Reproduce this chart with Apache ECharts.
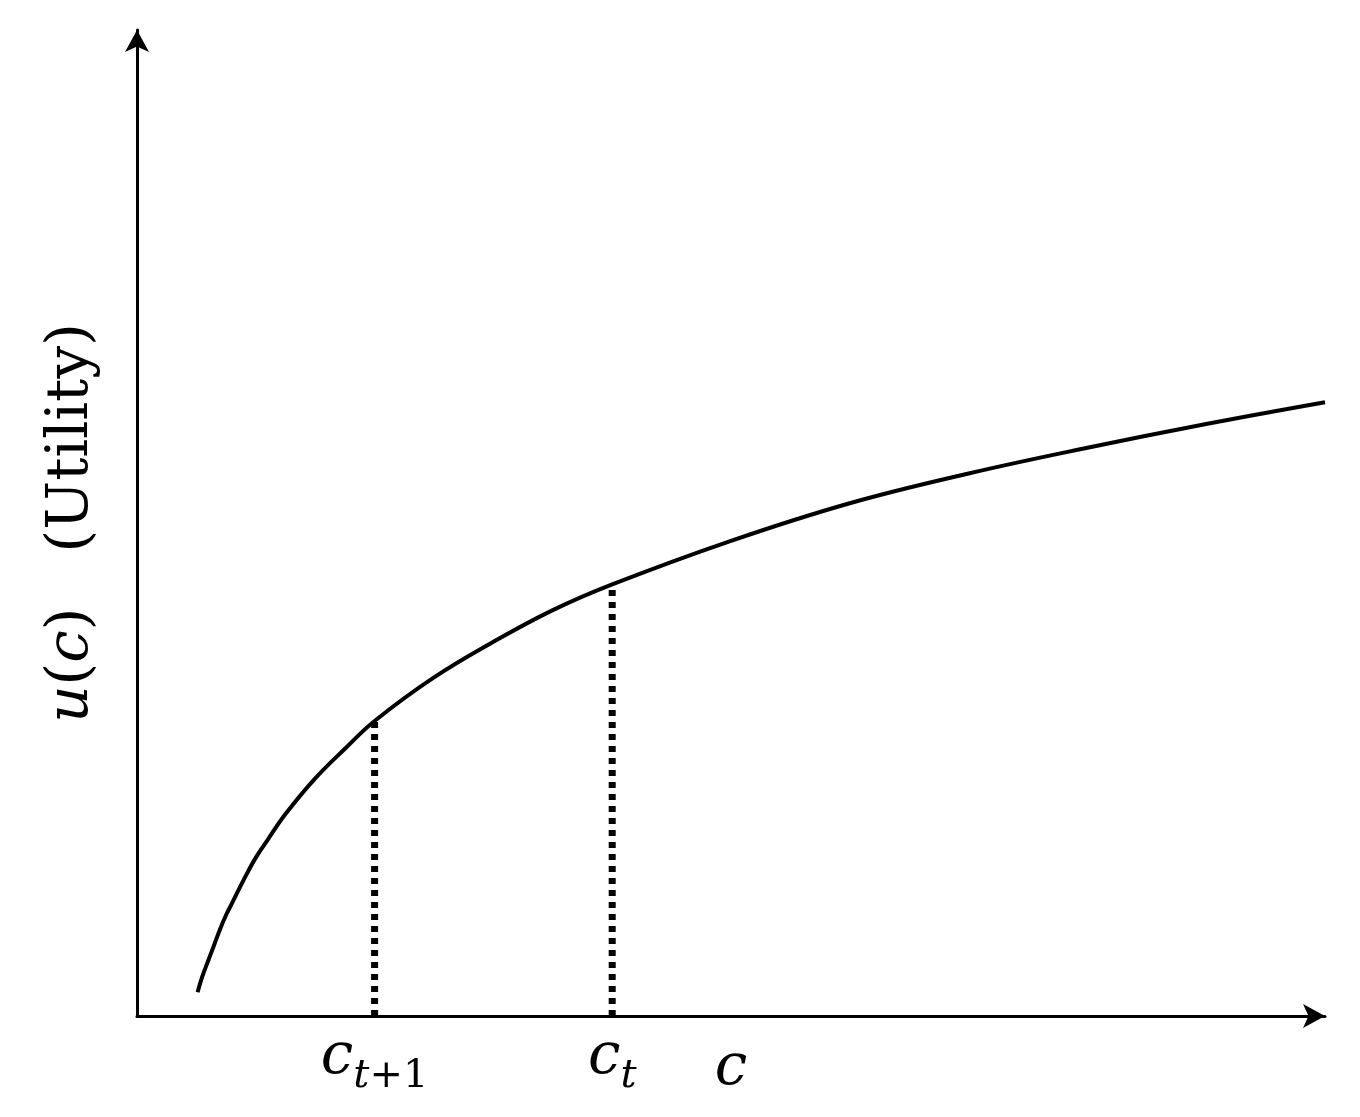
<!DOCTYPE html>
<html>
<head>
<meta charset="utf-8">
<script src="https://cdn.jsdelivr.net/npm/echarts@6/dist/echarts.min.js"></script>
<style>
html,body{margin:0;padding:0;background:#fff;}
#chart{width:1360px;height:1117px;}
</style>
</head>
<body>
<div id="chart"></div>
<script>
// Utility curve (c on x, u(c) on y)
const consumption = [0.51, 0.55, 0.6, 0.65, 0.7, 0.75, 0.8, 0.9, 1.0, 1.1, 1.25, 1.5, 1.75, 2, 2.5, 3, 3.5, 4, 5, 6, 7, 8, 9, 10];
const utility = [0.12, 0.20, 0.28, 0.36, 0.44, 0.51, 0.57, 0.69, 0.80, 0.89, 1.02, 1.20, 1.35, 1.49, 1.71, 1.89, 2.05, 2.18, 2.40, 2.59, 2.74, 2.87, 2.99, 3.10];
// Marked consumption levels c_{t+1}, c_t and their utility
const markerC = [2, 4];
const markerU = [1.49, 2.18];
const markerSub = ['t', 't'];
const markerSubExtra = ['+1', ''];
const xName = 'c';
const yName = ['u', 'c', 'Utility'];

const SERIF = 'DejaVu Serif';
const chart = echarts.init(document.getElementById('chart'), null, {renderer: 'canvas'});

const curve = consumption.map((c, i) => [c, utility[i]]);
const series = [{
  type: 'line',
  data: curve,
  smooth: 0.4,
  showSymbol: false,
  symbol: 'none',
  clip: false,
  lineStyle: {color: '#000', width: 4},
  z: 3
}];
markerC.forEach((c, i) => {
  series.push({
    type: 'line',
    data: [[c, 0], [c, markerU[i]]],
    showSymbol: false,
    symbol: 'none',
    lineStyle: {color: '#000', width: 7, type: [6, 6], cap: 'butt'},
    z: 2
  });
});

const labelMap = {};
markerC.forEach((c, i) => {
  labelMap[c] = '{c|c}{s|' + markerSub[i] + '}' + (markerSubExtra[i] ? '{n|' + markerSubExtra[i] + '}' : '');
});

chart.setOption({
  animation: false,
  backgroundColor: '#fff',
  grid: {left: 137, right: 35, top: 30, bottom: 101, containLabel: false, outerBoundsMode: 'none'},
  xAxis: {
    type: 'value',
    min: 0, max: 10,
    name: xName,
    nameLocation: 'middle',
    nameGap: 24,
    nameMoveOverlap: false,
    nameTextStyle: {fontFamily: SERIF, fontStyle: 'italic', fontSize: 58, color: '#000', verticalAlign: 'top'},
    axisLine: {show: true, symbol: ['none', 'arrow'], symbolSize: [18, 22],
      lineStyle: {color: '#000', width: 3}},
    axisTick: {show: false},
    splitLine: {show: false},
    axisLabel: {
      show: true,
      customValues: markerC,
      margin: 13,
      formatter: v => labelMap[v] || '',
      rich: {
        c: {fontFamily: SERIF, fontStyle: 'italic', fontSize: 58, color: '#000', verticalAlign: 'top', lineHeight: 60},
        s: {fontFamily: SERIF, fontStyle: 'italic', fontSize: 40, color: '#000', verticalAlign: 'top', padding: [28, 0, 0, 0], lineHeight: 44},
        n: {fontFamily: SERIF, fontSize: 40, color: '#000', verticalAlign: 'top', padding: [28, 0, 0, 0], lineHeight: 44}
      }
    }
  },
  yAxis: {
    type: 'value',
    min: 0, max: 4.98,
    name: '{i|' + yName[0] + '}({i|' + yName[1] + '})   (' + yName[2] + ')',
    nameLocation: 'middle',
    nameGap: 36,
    nameMoveOverlap: false,
    nameTextStyle: {fontFamily: SERIF, fontSize: 58, color: '#000',
      rich: {i: {fontFamily: SERIF, fontStyle: 'italic', fontSize: 58, color: '#000'}}},
    axisLine: {show: true, symbol: ['none', 'arrow'], symbolSize: [18, 22],
      lineStyle: {color: '#000', width: 3}},
    axisTick: {show: false},
    axisLabel: {show: false},
    splitLine: {show: false}
  },
  series: series
});
</script>
</body>
</html>
